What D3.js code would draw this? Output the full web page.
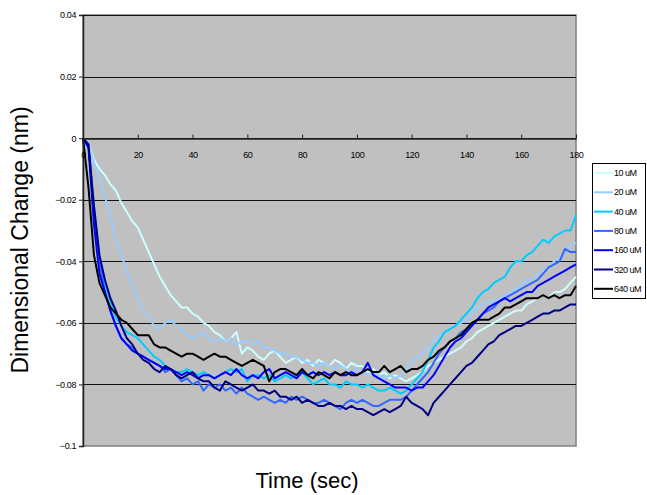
<!DOCTYPE html>
<html>
<head>
<meta charset="utf-8">
<script src="https://cdn.jsdelivr.net/npm/d3@7"></script>
<style>
  body { margin: 0; background: #fff; }
  svg text { font-family: "Liberation Sans", Arial, sans-serif; }
</style>
</head>
<body>
<svg id="chart" width="647" height="495"></svg>
<script>
// time points (sec)
const times = [
  0, 2, 4, 6, 8, 10, 12, 14, 16, 18,
  20, 22, 24, 26, 28, 30, 32, 34, 36, 38,
  40, 42, 44, 46, 48, 50, 52, 54, 56, 58,
  60, 62, 64, 66, 68, 70, 72, 74, 76, 78,
  80, 82, 84, 86, 88, 90, 92, 94, 96, 98,
  100, 102, 104, 106, 108, 110, 112, 114, 116, 118,
  120, 122, 124, 126, 128, 130, 132, 134, 136, 138,
  140, 142, 144, 146, 148, 150, 152, 154, 156, 158,
  160, 162, 164, 166, 168, 170, 172, 174, 176, 178,
  180
];

// dimensional change, in 0.001 nm
const uM10 = [
  0, -2, -7, -10, -12, -15, -17, -21, -24, -27,
  -29, -33, -37, -41, -45, -48, -51, -53, -55, -55,
  -57, -58, -60, -61, -63, -64, -66, -65, -63, -70,
  -68, -69, -71, -72, -70, -69, -71, -73, -72, -71,
  -73, -72, -74, -72, -73, -74, -72, -73, -75, -73,
  -74, -74, -76, -75, -77, -76, -78, -77, -78, -79,
  -78, -77, -76, -74, -73, -72, -71, -70, -69, -68,
  -66, -65, -63, -62, -61, -60, -59, -58, -57, -56,
  -56, -54, -53, -52, -51, -52, -50, -50, -49, -47,
  -45
];
const uM20 = [
  0, -2, -8, -13, -19, -25, -33, -38, -43, -48,
  -52, -56, -58, -61, -62, -60, -59, -61, -62, -64,
  -65, -64, -63, -65, -66, -65, -66, -65, -67, -66,
  -66, -67, -66, -68, -68, -69, -70, -70, -71, -71,
  -72, -73, -73, -74, -73, -74, -75, -74, -75, -76,
  -75, -76, -77, -76, -77, -78, -77, -78, -77, -75,
  -73, -71, -70, -68, -66, -64, -63, -62, -61, -60,
  -59, -57, -55, -54, -53, -53, -52, -51, -50, -49,
  -48, -46, -46, -44, -43, -42, -40, -39, -37, -35,
  -34
];
const uM40 = [
  0, -3, -22, -38, -47, -53, -58, -61, -63, -64,
  -65, -67, -69, -71, -72, -74, -75, -76, -76, -75,
  -76, -77, -76, -77, -78, -77, -76, -75, -76, -75,
  -79, -77, -77, -78, -77, -79, -78, -77, -78, -77,
  -76, -78, -80, -79, -78, -80, -80, -81, -79, -80,
  -80, -81, -80, -81, -82, -82, -81, -82, -83, -82,
  -80, -78, -76, -72, -68, -66, -63, -62, -61, -59,
  -57, -55, -52, -50, -49, -47, -46, -45, -42, -40,
  -40, -38, -37, -35, -33, -34, -32, -31, -30, -30,
  -25
];
const uM80 = [
  0, -2, -24, -40, -50, -56, -61, -65, -67, -68,
  -70, -71, -72, -73, -74, -76, -75, -77, -79, -78,
  -80, -79, -82, -80, -81, -80, -82, -81, -83, -81,
  -83, -84, -85, -84, -85, -86, -85, -86, -84, -85,
  -84, -85, -86, -86, -85, -86, -87, -88, -86, -85,
  -86, -85, -86, -87, -87, -86, -85, -85, -85, -84,
  -82, -80, -78, -76, -73, -70, -68, -66, -65, -63,
  -62, -60, -59, -57, -56, -55, -53, -52, -51, -50,
  -49, -48, -47, -46, -44, -42, -41, -40, -36, -37,
  -37
];
const uM160 = [
  0, -3, -28, -44, -50, -56, -61, -65, -67, -69,
  -70, -71, -72, -73, -74, -75, -75, -76, -77, -76,
  -77, -78, -77, -77, -78, -77, -76, -77, -75, -77,
  -78, -77, -78, -76, -75, -78, -77, -76, -77, -78,
  -76, -77, -76, -77, -76, -77, -76, -77, -77, -76,
  -77, -76, -73, -77, -78, -79, -80, -81, -81, -81,
  -82, -81, -81, -79, -77, -74, -71, -68, -66, -65,
  -63, -61, -59, -57, -55, -54, -53, -52, -53, -52,
  -51, -50, -50, -48, -47, -46, -45, -44, -43, -42,
  -41
];
const uM320 = [
  0, -2, -22, -38, -46, -52, -56, -61, -65, -67,
  -70, -72, -73, -75, -76, -74, -75, -77, -78, -77,
  -76, -78, -79, -79, -81, -82, -79, -80, -81, -82,
  -81, -80, -82, -82, -83, -82, -84, -84, -85, -84,
  -86, -85, -86, -87, -87, -86, -87, -87, -88, -87,
  -88, -88, -89, -90, -89, -88, -89, -88, -87, -84,
  -86, -87, -88, -90, -86, -84, -82, -80, -78, -76,
  -74, -73, -71, -69, -67, -66, -64, -63, -62, -61,
  -61, -60, -59, -58, -57, -57, -56, -56, -55, -54,
  -54
];
const uM640 = [
  0, -16, -38, -47, -51, -55, -57, -59, -60, -62,
  -64, -64, -64, -67, -68, -68, -69, -70, -71, -70,
  -70, -71, -72, -71, -70, -71, -71, -72, -73, -74,
  -73, -72, -73, -74, -79, -76, -75, -75, -76, -77,
  -75, -77, -78, -76, -77, -78, -76, -77, -76, -77,
  -77, -76, -75, -76, -76, -74, -76, -75, -74, -76,
  -75, -75, -74, -72, -71, -69, -68, -66, -65, -64,
  -62, -60, -59, -59, -59, -58, -57, -55, -55, -54,
  -53, -52, -52, -52, -51, -52, -51, -52, -51, -51,
  -48
];

const seriesNames = ['10 uM', '20 uM', '40 uM', '80 uM', '160 uM', '320 uM', '640 uM'];
const seriesValues = [uM10, uM20, uM40, uM80, uM160, uM320, uM640];
const seriesColors = ['#ccffff', '#99ccff', '#00ccff', '#3366ff', '#0000ff', '#000080', '#000000'];

const xTicks = [0, 20, 40, 60, 80, 100, 120, 140, 160, 180];
const yTicks = [0.04, 0.02, 0, -0.02, -0.04, -0.06, -0.08, -0.1];

// plot area
const plot = { left: 83, right: 576, top: 15, bottom: 446 };

const svg = d3.select('#chart');

const x = d3.scaleLinear().domain([0, 180]).range([plot.left, plot.right]);
const y = d3.scaleLinear().domain([-0.1, 0.04]).range([plot.bottom, plot.top]);

// grey background
svg.append('rect')
  .attr('x', plot.left)
  .attr('y', plot.top)
  .attr('width', plot.right - plot.left)
  .attr('height', plot.bottom - plot.top)
  .attr('fill', '#c0c0c0')
  .attr('stroke', '#808080')
  .attr('stroke-width', 1.5);

// horizontal grid lines
svg.append('g')
  .selectAll('line')
  .data(yTicks.filter(d => d > -0.1))
  .enter().append('line')
  .attr('x1', plot.left)
  .attr('x2', plot.right)
  .attr('y1', d => Math.round(y(d)) + 0.5)
  .attr('y2', d => Math.round(y(d)) + 0.5)
  .attr('stroke', '#111')
  .attr('stroke-width', 1);

// data lines
const line = d3.line()
  .x((d, i) => x(times[i]))
  .y(d => y(d / 1000));

svg.append('g')
  .selectAll('path')
  .data(seriesValues)
  .enter().append('path')
  .attr('d', d => line(d))
  .attr('fill', 'none')
  .attr('stroke', (d, i) => seriesColors[i])
  .attr('stroke-width', 2)
  .attr('stroke-linejoin', 'round');

// y axis
const yAxis = svg.append('g')
  .attr('transform', 'translate(' + plot.left + ',0)')
  .call(d3.axisLeft(y)
    .tickValues(yTicks)
    .tickFormat(d => d3.format('.2~f')(d))
    .tickSize(4)
    .tickPadding(3));
yAxis.select('.domain').attr('stroke', '#222').attr('stroke-width', 1.5);
yAxis.selectAll('.tick line').attr('stroke', '#222');
yAxis.selectAll('text')
  .style('font-size', '9px')
  .style('letter-spacing', '-0.4px')
  .attr('fill', '#000');

// x axis sits on the zero line
const xAxis = svg.append('g')
  .attr('transform', 'translate(0,' + (Math.round(y(0)) + 0.5) + ')')
  .call(d3.axisBottom(x)
    .tickValues(xTicks)
    .tickSize(0)
    .tickPadding(13));
xAxis.select('.domain').attr('stroke', '#222').attr('stroke-width', 1.5);
xAxis.selectAll('.tick')
  .append('line')
  .attr('y1', 0)
  .attr('y2', -4)
  .attr('stroke', '#222');
xAxis.selectAll('text')
  .style('font-size', '9px')
  .style('letter-spacing', '-0.4px')
  .attr('fill', '#000');

// axis titles
svg.append('text')
  .attr('x', 307)
  .attr('y', 488)
  .attr('text-anchor', 'middle')
  .style('font-size', '22px')
  .text('Time (sec)');

svg.append('text')
  .attr('transform', 'translate(28,240) rotate(-90)')
  .attr('text-anchor', 'middle')
  .style('font-size', '23px')
  .text('Dimensional Change (nm)');

// legend
const legend = svg.append('g').attr('transform', 'translate(592,163)');
legend.append('rect')
  .attr('x', 0.5)
  .attr('y', 0.5)
  .attr('width', 53)
  .attr('height', 135)
  .attr('fill', '#fff')
  .attr('stroke', '#000')
  .attr('stroke-width', 1);

const rows = legend.selectAll('.row')
  .data(seriesNames)
  .enter().append('g')
  .attr('class', 'row')
  .attr('transform', (d, i) => 'translate(0,' + (10 + i * 19.3) + ')');
rows.append('line')
  .attr('x1', 2)
  .attr('x2', 21)
  .attr('stroke', (d, i) => seriesColors[i])
  .attr('stroke-width', 2);
rows.append('text')
  .attr('x', 22)
  .attr('dy', '0.35em')
  .style('font-size', '9px')
  .style('letter-spacing', '-0.5px')
  .text(d => d);
</script>
</body>
</html>
